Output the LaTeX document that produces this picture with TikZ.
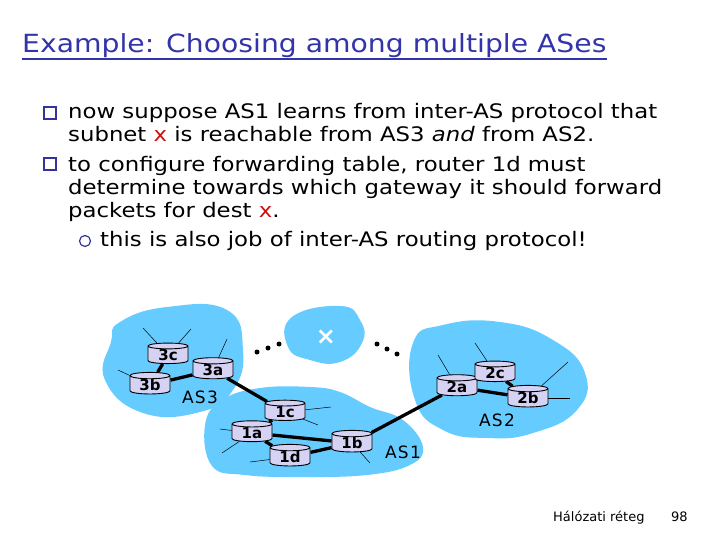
\documentclass[tikz,border=0pt]{standalone}
\usepackage{fontspec}
\setmainfont{DejaVu Sans}
\newfontfamily\slidefont[FakeStretch=1.14]{DejaVu Sans}
\newfontfamily\titlefont[FakeStretch=1.13]{DejaVu Sans}
\usetikzlibrary{shapes.geometric,backgrounds}
\definecolor{cloudblue}{HTML}{66CCFF}
\definecolor{routerfill}{HTML}{D6D2F4}
\definecolor{titleblue}{HTML}{3333AA}
\definecolor{bulletblue}{HTML}{333399}
\definecolor{xred}{HTML}{CC1111}
\tikzset{
  router/.style={
    cylinder,shape border rotate=90,aspect=.3,
    draw=black,fill=routerfill,line width=.9pt,
    minimum width=40pt,minimum height=17pt,inner sep=0pt,
    font=\bfseries\fontsize{15}{15}\selectfont
  },
  link/.style={draw=black,line width=3.3pt},
  stub/.style={draw=black,line width=.5pt},
  cloudshape/.style={fill=cloudblue,draw=none},
  bodytext/.style={anchor=base west,align=left,inner sep=0pt,
    font=\slidefont\fontsize{20}{23}\selectfont},
  sqbullet/.style={draw=bulletblue,line width=1.4pt,minimum size=12pt,inner sep=0pt},
  rdbullet/.style={circle,draw=bulletblue,line width=1.2pt,minimum size=11pt,inner sep=0pt},
  aslabel/.style={font=\fontsize{17}{17}\selectfont\addfontfeatures{LetterSpace=8}},
  dotmark/.style={circle,fill=black,inner sep=0pt,minimum size=5pt}
}
\begin{document}
\begin{tikzpicture}[x=1pt,y=-1pt]
\useasboundingbox (0,0) rectangle (720,540);

\node[anchor=base west,inner sep=0pt,text=titleblue,font=\titlefont\fontsize{25}{25}\selectfont]
  (title) at (22,53) {Example: Choosing among multiple ASes};
\draw[titleblue,line width=1.8pt] ([yshift=-6pt]title.base west) -- ([yshift=-6pt]title.base east);

\node[sqbullet] (sq1) at (50,113) {};
\node[bodytext] (b1) at (68,142)
  {now suppose AS1 learns from inter-AS protocol that\\
   subnet {\color{xred}x} is reachable from AS3 \emph{and} from AS2.};
\node[sqbullet] (sq2) at (50,164) {};
\node[bodytext] (b2) at (68,218)
  {to configure forwarding table, router 1d must\\
   determine towards which gateway it should forward\\
   packets for dest {\color{xred}x}.};
\node[rdbullet] (rd1) at (85,241) {};
\node[bodytext] (b3) at (100,247) {this is also job of inter-AS routing protocol!};

\node[router] (3c) at (168,355) {3c};
\node[router] (3b) at (150,385) {3b};
\node[router] (3a) at (213,370) {3a};
\node[router] (1c) at (285,412) {1c};
\node[router] (1a) at (252,433) {1a};
\node[router] (1d) at (290,457) {1d};
\node[router] (1b) at (352,443) {1b};
\node[router] (2a) at (457,387) {2a};
\node[router] (2c) at (495,373) {2c};
\node[router] (2b) at (528,398) {2b};

\node[aslabel] (as3) at (200,397) {AS3};
\node[aslabel] (as1) at (403,452) {AS1};
\node[aslabel] (as2) at (497,420) {AS2};
\node[text=white,font=\bfseries\fontsize{24}{24}\selectfont] (x) at (326,337) {×};

\foreach \d/\px/\py in {l1/257/352,l2/268/348,l3/279/344,r1/377/344,r2/387/349,r3/397/354}
  \node[dotmark] (\d) at (\px,\py) {};

\begin{scope}[on background layer]
\fill[cloudshape] plot[smooth cycle,tension=.8] coordinates
  {(120,322) (167,307) (227,310) (243,350) (233,390) (200,412) (143,413) (105,380) (111,342)};
\fill[cloudshape] plot[smooth cycle,tension=.8] coordinates
  {(292,317) (340,306) (360,320) (362,343) (340,362) (310,360) (288,347)};
\fill[cloudshape] plot[smooth cycle,tension=.8] coordinates
  {(413,343) (443,325) (500,322) (553,340) (585,373) (577,410) (533,433) (487,438) (443,430) (415,400)};
\fill[cloudshape] plot[smooth cycle,tension=.7] coordinates
  {(205,425) (222,400) (260,388) (310,387) (340,392) (370,407) (403,420) (423,447) (410,465) (367,475) (300,477) (245,475) (212,466)};

\foreach \r/\px/\py [count=\i] in {3c/143/328,3c/191/329,3b/118/370,3a/227/339,
    1c/331/407,1c/318/425,1a/220/429,1a/222/453,1d/250/462,1b/370/463,
    2a/438/355,2c/475/343,2b/568/362,2b/570/398}{
  \coordinate (h\i) at (\px,\py);
  \draw[stub] (\r) -- (h\i);
}

\draw[link] (3c) -- (3b);
\draw[link] (3b) -- (3a);
\draw[link] (3a) -- (1c);
\draw[link] (1c) -- (1a);
\draw[link] (1a) -- (1b);
\draw[link] (1a) -- (1d);
\draw[link] (1d) -- (1b);
\draw[link] (1b) -- (2a);
\draw[link] (2a) -- (2c);
\draw[link] (2a) -- (2b);
\draw[link] (2c) -- (2b);
\end{scope}

\node[anchor=base west,inner sep=0pt,font=\fontsize{13}{13}\selectfont] (foot) at (553,521) {Hálózati réteg};
\node[anchor=base west,inner sep=0pt,font=\fontsize{13}{13}\selectfont] (page) at (671,521) {98};
\end{tikzpicture}
\end{document}
